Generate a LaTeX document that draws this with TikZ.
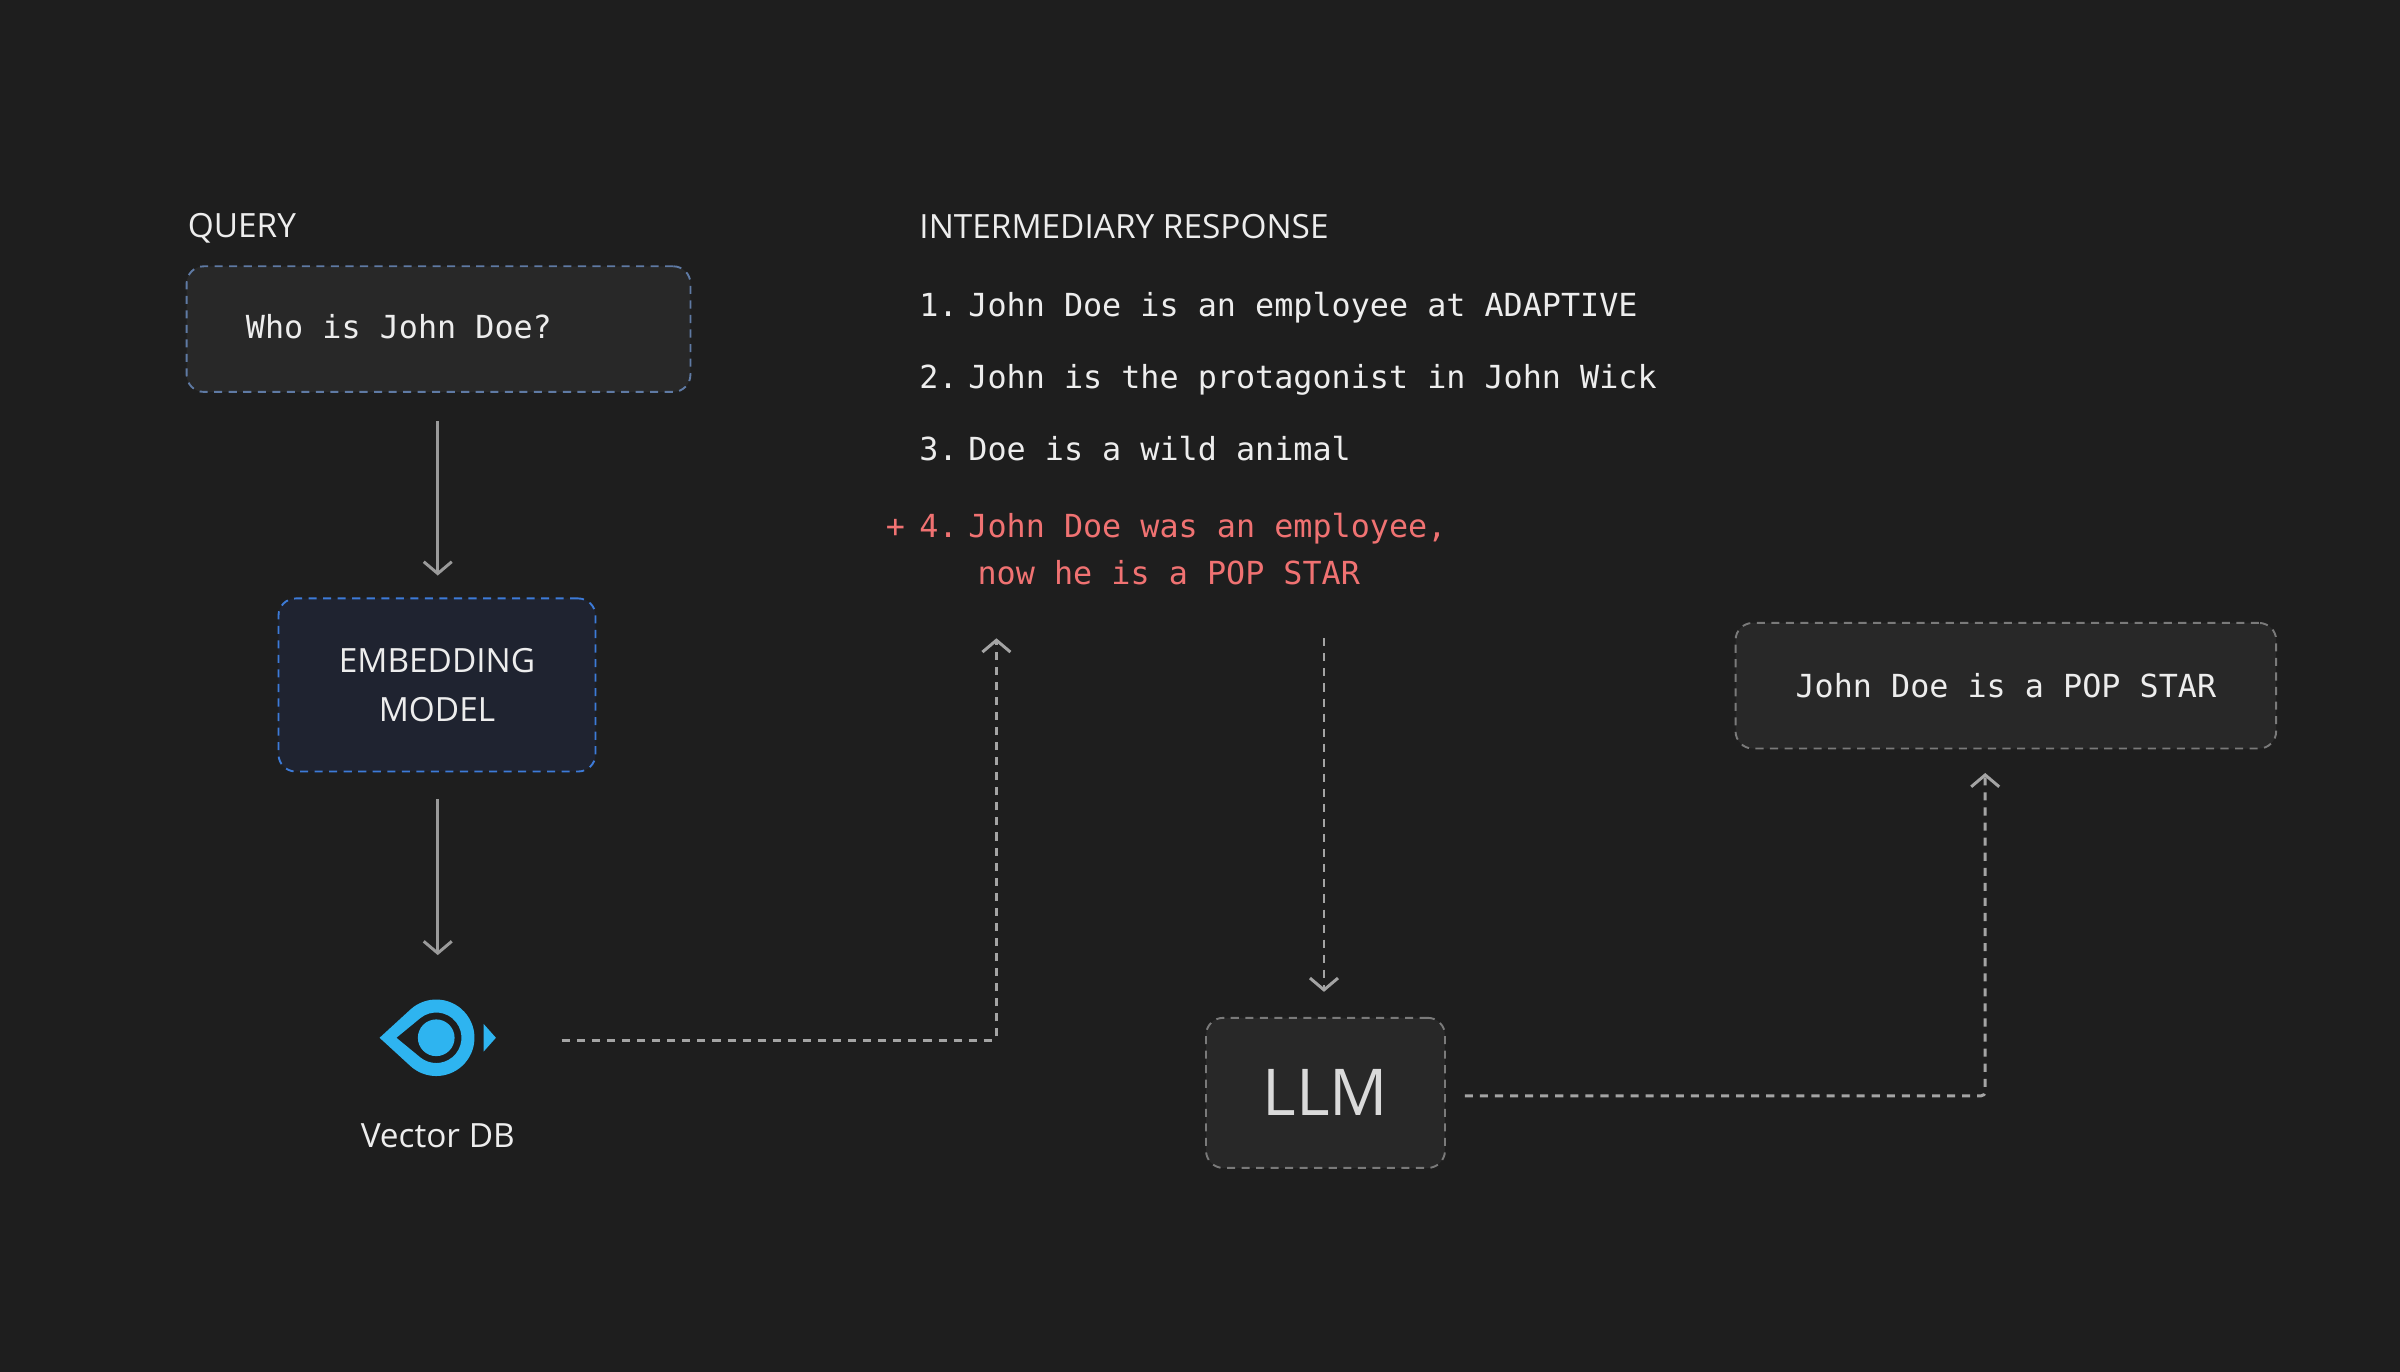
\documentclass[tikz,border=0pt]{standalone}
\usepackage{fontspec}
\setmainfont{Open Sans}
\setmonofont{DejaVu Sans Mono}
\usetikzlibrary{arrows.meta}
\definecolor{bg}{HTML}{1E1E1E}
\definecolor{boxbg}{HTML}{282828}
\definecolor{embbg}{HTML}{1F2330}
\definecolor{txt}{HTML}{EDEDED}
\definecolor{gline}{HTML}{9A9A9A}
\definecolor{dline}{HTML}{7A7A7A}
\definecolor{blued}{HTML}{3D7BD8}
\definecolor{red}{HTML}{F07272}
\definecolor{eye}{HTML}{2EB4F0}
\tikzset{
 sans/.style={font=\fontsize{6.2}{9}\selectfont, text=txt, inner sep=0pt},
 mono/.style={font=\ttfamily\fontsize{5.9}{9}\selectfont, text=txt, inner sep=0pt},
 dbox/.style={draw=dline, dashed, dash pattern=on 1.5pt off 1.2pt, line width=0.35pt, rounded corners=3.2pt, fill=boxbg},
 solidarrow/.style={draw=gline, line width=0.55pt, -{Straight Barb[length=2.2pt,width=5.2pt,line width=0.55pt]}},
 dasharrow/.style={draw=gline!90, line width=0.55pt, dash pattern=on 1.5pt off 1.3pt, rounded corners=0.8pt, -{Straight Barb[length=2.2pt,width=5.2pt,line width=0.55pt]}},
}
\begin{document}
\begin{tikzpicture}[x=0.01cm,y=-0.01cm]
\useasboundingbox (0,0) rectangle (1568,896);
\fill[bg] (-5,-5) rectangle (1575,905);
% query
\node[sans, anchor=base west] (qlab) at (122,155) {QUERY};
\node[dbox, draw=blued!45!dline, minimum width=3.29cm, minimum height=0.82cm] (q) at (286.5,215) {};
\node[mono, anchor=base west] (qt) at (160,221) {Who is John Doe?};
% embedding
\node[dbox, draw=blued, fill=embbg, minimum width=2.07cm, minimum height=1.13cm, align=center, text=txt, font=\fontsize{6.2}{9.2}\selectfont] (emb) at (285.5,447.5) {EMBEDDING\\MODEL};
\coordinate (a1s) at (286,275); \coordinate (a1e) at (286,376);
\draw[solidarrow] (a1s) -- (a1e);
\coordinate (a2s) at (286,522); \coordinate (a2e) at (286,624);
\draw[solidarrow] (a2s) -- (a2e);
% eye icon
\begin{scope}[shift={(285,678)}, x=0.01cm, y=0.01cm]
\fill[eye, even odd rule] (-37,0) -- (132.5:25) arc (132.5:-132.5:25) -- cycle
  (-26,0) -- (129:16.5) arc (129:-129:16.5) -- cycle;
\fill[eye] (0,0) circle (12);
\fill[eye] (31,9) -- (39,0) -- (31,-9) -- cycle;
\end{scope}
\node[sans] (vdb) at (286,742) {Vector DB};
\coordinate (vout) at (367,680);
\coordinate (c1) at (651,680);
\coordinate (rin) at (651,417);
\draw[dasharrow] (vout) -- (c1) -- (rin);
% intermediary response
\node[sans, anchor=base west] (ilab) at (600,156) {INTERMEDIARY RESPONSE};
\node[mono, anchor=base west] (n1) at (600,207) {1.};
\node[mono, anchor=base west] (l1) at (632,207) {John Doe is an employee at ADAPTIVE};
\node[mono, anchor=base west] (n2) at (600,254) {2.};
\node[mono, anchor=base west] (l2) at (632,254) {John is the protagonist in John Wick};
\node[mono, anchor=base west] (n3) at (600,301) {3.};
\node[mono, anchor=base west] (l3) at (632,301) {Doe is a wild animal};
\node[mono, text=red, anchor=base west] (plus) at (578,351) {+};
\node[mono, text=red, anchor=base west] (n4) at (600,351) {4.};
\node[mono, text=red, anchor=base west] (l4) at (632,351) {John Doe was an employee,};
\node[mono, text=red, anchor=base west] (l5) at (638,382) {now he is a POP STAR};
% LLM
\coordinate (rout) at (865,417);
\node[dbox, minimum width=1.56cm, minimum height=0.98cm, font=\fontsize{12}{14}\selectfont, text=txt!92!black] (llm) at (866,714) {LLM};
\coordinate (llmin) at (865,648);
\draw[dasharrow] (rout) -- (llmin);
% answer
\node[dbox, minimum width=3.53cm, minimum height=0.82cm, font=\ttfamily\fontsize{5.9}{9}\selectfont, text=txt] (ans) at (1310.5,448) {John Doe is a POP STAR};
\coordinate (lout) at (957,716);
\coordinate (c2) at (1297,716);
\coordinate (ain) at (1297,505);
\draw[dasharrow] (lout) -- (c2) -- (ain);
\end{tikzpicture}
\end{document}
